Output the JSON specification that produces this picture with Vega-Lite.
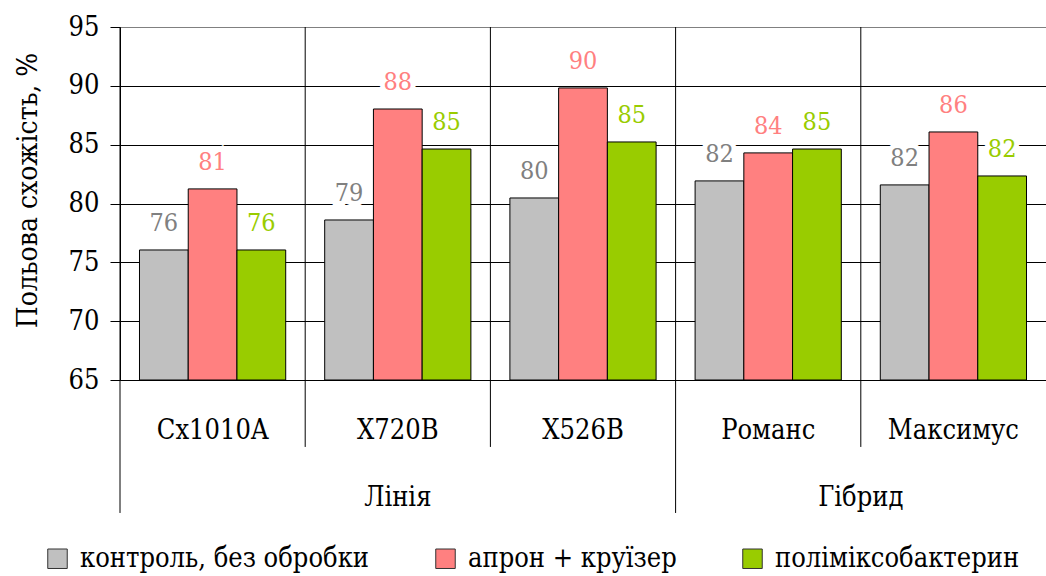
{
  "$schema": "https://vega.github.io/schema/vega-lite/v6.json",
  "width": 926,
  "height": 353,
  "autosize": {"type": "none"},
  "padding": {"left": 120, "top": 27, "right": 0, "bottom": 196},
  "background": "white",
  "config": {
    "view": {"stroke": null},
    "font": "DejaVu Serif Condensed, DejaVu Serif",
    "text": {"font": "DejaVu Serif Condensed, DejaVu Serif"},
    "axis": {"labelFont": "DejaVu Serif Condensed, DejaVu Serif", "titleFont": "DejaVu Serif Condensed, DejaVu Serif"},
    "legend": {"labelFont": "DejaVu Serif Condensed, DejaVu Serif"}
  },
  "layer": [
    {
      "data": {"values": [
        {"cat": "Cx1010A", "series": "контроль, без обробки", "value": 76.05},
        {"cat": "Cx1010A", "series": "апрон + круїзер", "value": 81.24},
        {"cat": "Cx1010A", "series": "поліміксобактерин", "value": 76.05},
        {"cat": "X720B", "series": "контроль, без обробки", "value": 78.6},
        {"cat": "X720B", "series": "апрон + круїзер", "value": 88.03},
        {"cat": "X720B", "series": "поліміксобактерин", "value": 84.63},
        {"cat": "X526B", "series": "контроль, без обробки", "value": 80.47},
        {"cat": "X526B", "series": "апрон + круїзер", "value": 89.82},
        {"cat": "X526B", "series": "поліміксобактерин", "value": 85.23},
        {"cat": "Романс", "series": "контроль, без обробки", "value": 81.92},
        {"cat": "Романс", "series": "апрон + круїзер", "value": 84.3},
        {"cat": "Романс", "series": "поліміксобактерин", "value": 84.63},
        {"cat": "Максимус", "series": "контроль, без обробки", "value": 81.58},
        {"cat": "Максимус", "series": "апрон + круїзер", "value": 86.08},
        {"cat": "Максимус", "series": "поліміксобактерин", "value": 82.34}
      ]},
      "encoding": {
        "x": {
          "field": "cat", "type": "nominal",
          "scale": {"domain": ["Cx1010A", "X720B", "X526B", "Романс", "Максимус"], "paddingInner": 0, "paddingOuter": 0},
          "axis": {
            "title": null, "labelAngle": 0, "labelFontSize": 27,
            "labelColor": "black", "labelPadding": 37, "ticks": false, "grid": false,
            "domainColor": "black", "domainWidth": 1, "zindex": 1
          }
        },
        "xOffset": {
          "field": "series", "type": "nominal",
          "scale": {"domain": ["контроль, без обробки", "апрон + круїзер", "поліміксобактерин"], "paddingInner": 0, "paddingOuter": 0.4}
        },
        "y": {
          "field": "value", "type": "quantitative",
          "scale": {"domain": [65, 95], "nice": false, "zero": false},
          "axis": {
            "title": "Польова схожість, %", "titleFontSize": 28,
            "titleFontWeight": "normal", "titleColor": "black", "titlePadding": 26, "titleY": 163,
            "values": [65, 70, 75, 80, 85, 90, 95],
            "labelFontSize": 27, "labelColor": "black", "labelPadding": 11,
            "tickColor": "black", "tickSize": 10, "domainColor": "black",
            "grid": true,
            "gridColor": {"condition": {"test": "datum.value == 95", "value": "#808080"}, "value": "black"},
            "gridOpacity": 1
          }
        }
      },
      "layer": [
        {
          "mark": {"type": "bar", "stroke": "black", "strokeWidth": 1, "opacity": 1},
          "encoding": {
            "y2": {"datum": 65},
            "fill": {
              "field": "series", "type": "nominal",
              "scale": {"domain": ["контроль, без обробки", "апрон + круїзер", "поліміксобактерин"], "range": ["#C0C0C0", "#FF8080", "#99CC00"]},
              "legend": {
                "title": null, "orient": "none", "legendX": -76, "legendY": 518, "direction": "horizontal",
                "symbolType": "square", "symbolSize": 380, "symbolStrokeColor": "#333333", "symbolStrokeWidth": 1,
                "symbolOpacity": 1,
                "labelFontSize": 27, "labelColor": "black", "labelLimit": 600,
                "labelOffset": 9, "columnPadding": 62, "padding": 0
              }
            }
          }
        },
        {
          "mark": {"type": "text", "baseline": "alphabetic", "dy": -19, "fontSize": 25, "fill": "white", "stroke": "white", "strokeWidth": 10},
          "encoding": {"text": {"field": "value", "type": "quantitative", "format": ".0f"}}
        },
        {
          "mark": {"type": "text", "baseline": "alphabetic", "dy": -19, "fontSize": 25},
          "encoding": {
            "text": {"field": "value", "type": "quantitative", "format": ".0f"},
            "color": {
              "field": "series", "type": "nominal",
              "scale": {"domain": ["контроль, без обробки", "апрон + круїзер", "поліміксобактерин"], "range": ["#808080", "#FF8080", "#99CC00"]},
              "legend": null
            }
          }
        }
      ]
    },
    {
      "data": {"values": [{"cat": "X720B"}, {"cat": "X526B"}, {"cat": "Максимус"}]},
      "mark": {"type": "rule", "color": "black", "strokeWidth": 1},
      "encoding": {
        "x": {"field": "cat", "type": "nominal", "bandPosition": 0},
        "y": {"datum": 95, "type": "quantitative"},
        "y2": {"datum": 59.31}
      }
    },
    {
      "data": {"values": [{"cat": "Cx1010A"}, {"cat": "Романс"}]},
      "mark": {"type": "rule", "color": "black", "strokeWidth": 1},
      "encoding": {
        "x": {"field": "cat", "type": "nominal", "bandPosition": 0},
        "y": {"datum": 95, "type": "quantitative"},
        "y2": {"datum": 53.7}
      }
    },
    {
      "data": {"values": [{"group": "Лінія", "cat": "X720B"}]},
      "mark": {"type": "text", "baseline": "alphabetic", "fontSize": 27, "color": "black"},
      "encoding": {
        "x": {"field": "cat", "type": "nominal", "bandPosition": 0.5},
        "y": {"datum": 54.29, "type": "quantitative"},
        "text": {"field": "group"}
      }
    },
    {
      "data": {"values": [{"group": "Гібрид", "cat": "Максимус"}]},
      "mark": {"type": "text", "baseline": "alphabetic", "fontSize": 27, "color": "black"},
      "encoding": {
        "x": {"field": "cat", "type": "nominal", "bandPosition": 0},
        "y": {"datum": 54.29, "type": "quantitative"},
        "text": {"field": "group"}
      }
    }
  ]
}
